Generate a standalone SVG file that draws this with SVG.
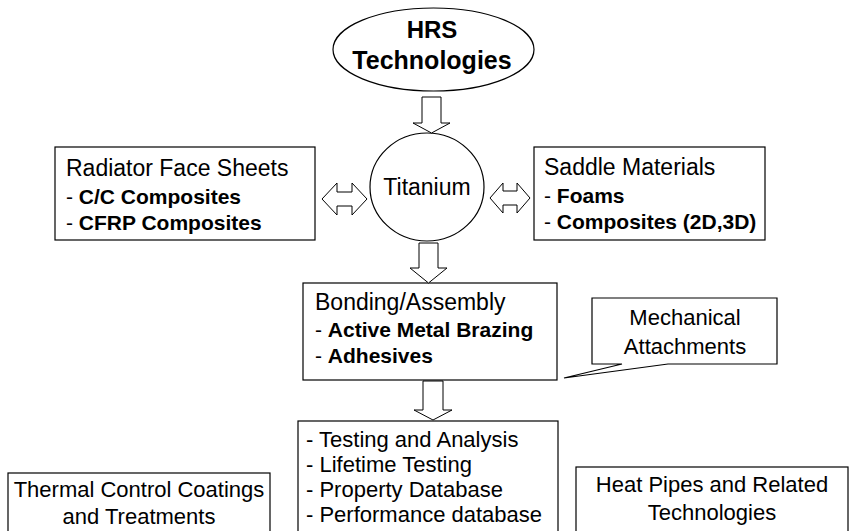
<svg xmlns="http://www.w3.org/2000/svg" width="852" height="531" viewBox="0 0 852 531">
<style>
.shape{fill:#fff;stroke:#000;stroke-width:1.2}
.arrow{fill:#fff;stroke:#000;stroke-width:1}
text{font-family:"Liberation Sans",Arial,sans-serif;fill:#000}
.h{font-size:23px}
.b{font-size:21px}
.bb{font-weight:bold}
.t{font-size:22px}
.c{text-anchor:middle}
</style>
<rect width="852" height="531" fill="#fff"/>
<g id="hrs">
<ellipse class="shape" cx="433.5" cy="49.5" rx="100.5" ry="41.5"/>
<text class="c bb" x="432" y="38" font-size="24">HRS</text>
<text class="c bb" x="432" y="69" font-size="25">Technologies</text>
</g>
<g id="titanium">
<ellipse class="shape" cx="427" cy="187" rx="57" ry="54"/>
<text class="h c" x="427" y="195">Titanium</text>
</g>
<g id="radiator">
<rect class="shape" x="55" y="147" width="260" height="93"/>
<text class="h" x="66" y="176">Radiator Face Sheets</text>
<text class="b" x="66" y="204">- <tspan class="bb">C/C Composites</tspan></text>
<text class="b" x="66" y="230">- <tspan class="bb">CFRP Composites</tspan></text>
</g>
<g id="saddle">
<rect class="shape" x="534" y="147" width="231" height="93"/>
<text class="h" x="544" y="175">Saddle Materials</text>
<text class="b" x="544" y="203">- <tspan class="bb">Foams</tspan></text>
<text class="b" x="544" y="229">- <tspan class="bb">Composites (2D,3D)</tspan></text>
</g>
<g id="bonding">
<rect class="shape" x="303" y="283" width="254" height="97"/>
<text class="h" x="315" y="310">Bonding/Assembly</text>
<text class="b" x="315" y="337">- <tspan class="bb">Active Metal Brazing</tspan></text>
<text class="b" x="315" y="363">- <tspan class="bb">Adhesives</tspan></text>
</g>
<g id="mechanical">
<path class="shape" d="M592,298 H777 V364 H668 L564,378 L622,364 H592 Z"/>
<text class="t c" x="685" y="325">Mechanical</text>
<text class="t c" x="685" y="354">Attachments</text>
</g>
<g id="testing">
<rect class="shape" x="298" y="421" width="260" height="115"/>
<text class="t" x="306" y="447">- Testing and Analysis</text>
<text class="t" x="306" y="472">- Lifetime Testing</text>
<text class="t" x="306" y="497">- Property Database</text>
<text class="t" x="306" y="522">- Performance database</text>
</g>
<g id="thermal">
<rect class="shape" x="8" y="473" width="262" height="70"/>
<text class="t c" x="139" y="497">Thermal Control Coatings</text>
<text class="t c" x="139" y="524">and Treatments</text>
</g>
<g id="heatpipes">
<rect class="shape" x="576" y="467" width="272" height="70"/>
<text class="t c" x="712" y="492">Heat Pipes and Related</text>
<text class="t c" x="712" y="520">Technologies</text>
</g>
<g id="connectors">
<path class="arrow" d="M422,97 H441 V123 H450 L431.5,133 L413,123 H422 Z"/>
<path class="arrow" d="M419,243 H438 V268 H447 L428.5,283 L410,268 H419 Z"/>
<path class="arrow" d="M423,381 H443 V410 H452 L433,420 L414,410 H423 Z"/>
<path class="arrow" d="M322,199 L337,183 V192 H352 V183 L367,199 L352,215 V206 H337 V215 Z"/>
<path class="arrow" d="M490,198 L503,183 V191 H517 V183 L530,198 L517,213 V205 H503 V213 Z"/>
</g>
</svg>
